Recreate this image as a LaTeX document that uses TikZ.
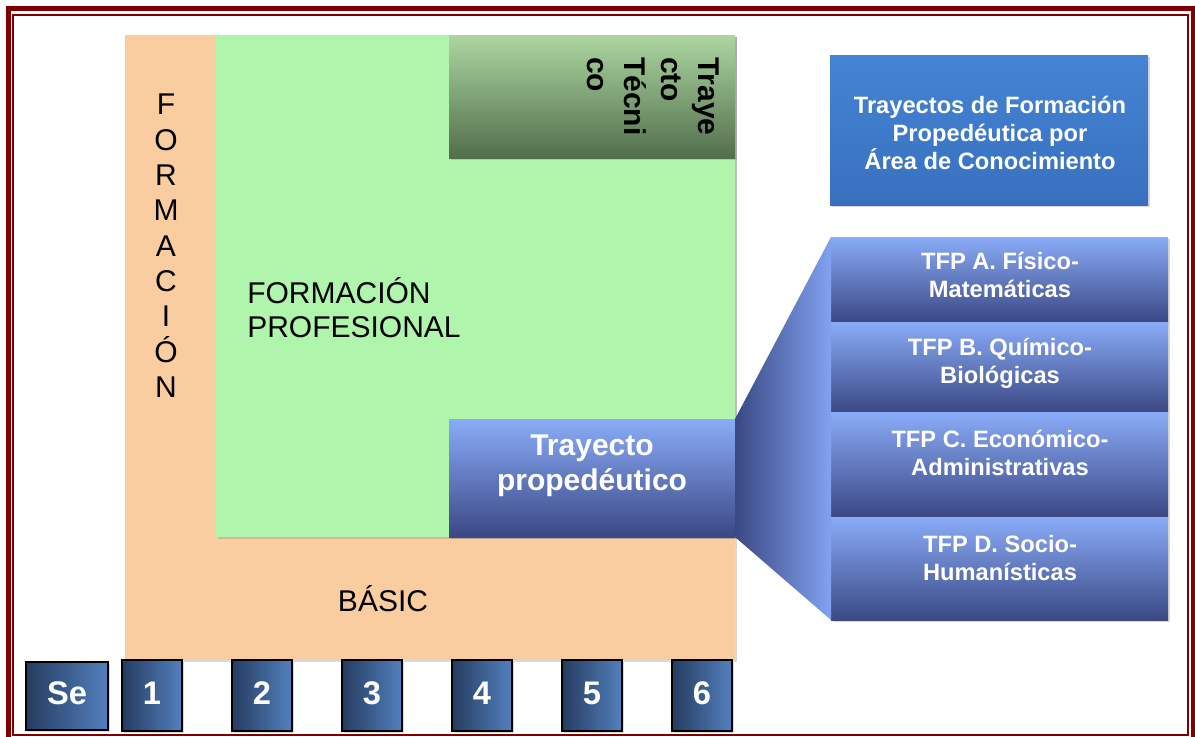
\documentclass[tikz,border=0pt]{standalone}
\usepackage{fontspec}
\setmainfont{Liberation Sans}
\usetikzlibrary{shadows}

\definecolor{guinda}{RGB}{128,0,0}
\definecolor{naranja}{RGB}{249,205,160}
\definecolor{verde}{RGB}{176,245,172}
\definecolor{verdeclaro}{RGB}{172,214,160}
\definecolor{verdeoscuro}{RGB}{82,110,76}
\definecolor{azulclaro}{RGB}{138,172,248}
\definecolor{azulmedio}{RGB}{98,122,212}
\definecolor{azuloscuro}{RGB}{58,72,132}
\definecolor{azulcaja}{RGB}{68,132,212}
\definecolor{azulcajab}{RGB}{56,112,190}
\definecolor{semizq}{RGB}{38,60,96}
\definecolor{semder}{RGB}{82,128,190}

\begin{document}
\begin{tikzpicture}[x=0.75pt,y=-0.75pt,
  caja/.style={anchor=north west,inner sep=0pt,outer sep=0pt,
    drop shadow={opacity=0.3,shadow xshift=1.5pt,shadow yshift=-1.5pt}},
  tfp/.style={caja,minimum width=252.75pt,top color=azulclaro,middle color=azulmedio,bottom color=azuloscuro},
  semestre/.style={caja,minimum width=45pt,minimum height=53.25pt,draw=black,line width=1.1pt,
    left color=semizq,right color=semder,text=white,text depth=4pt,font=\bfseries\fontsize{24.5}{29}\selectfont},
  textoblanco/.style={text=white,align=center,inner sep=0pt},
  tfptexto/.style={textoblanco,font=\bfseries\fontsize{17.75}{21}\selectfont}]
  \useasboundingbox (0,0) rectangle (1195,736);
  % marco doble
  \draw[guinda,line width=3.75pt] (8.5,8.5) rectangle (1193,741);
  \draw[guinda,line width=1.5pt] (13,14.5) rectangle (1188.3,735.2);
  % formacion basica y profesional
  \node[caja,fill=naranja,minimum width=457.5pt,minimum height=468.75pt] (basica) at (125,35) {};
  \node[caja,fill=verde,minimum width=389.25pt,minimum height=376.5pt] (profesional) at (216,35) {};
  \node[caja,top color=verdeclaro,bottom color=verdeoscuro,minimum width=214.5pt,minimum height=92.25pt] (tecnico) at (449,35) {};
  \node[caja,top color=azulclaro,middle color=azulmedio,bottom color=azuloscuro,minimum width=214.5pt,minimum height=88.5pt] (prop) at (449,419) {};
  \node[align=center,inner sep=0pt,font=\fontsize{22.5}{26.5}\selectfont] (formacion) at (166,246) {F\\O\\R\\M\\A\\C\\I\\Ó\\N};
  \node[anchor=west,align=left,inner sep=0pt,font=\fontsize{22.5}{25.5}\selectfont] (formprof) at (247,308) {FORMACIÓN\\PROFESIONAL};
  \node[inner sep=0pt,font=\fontsize{22.5}{27}\selectfont] (basic) at (383,599) {BÁSIC};
  \node[rotate=-90,anchor=north west,align=left,inner sep=0pt,font=\bfseries\fontsize{22.5}{27.75}\selectfont] (tectexto) at (719,57) {Traye\\cto\\Técni\\co};
  \node[textoblanco,font=\bfseries\fontsize{22.5}{26.25}\selectfont] (proptexto) at (592,466) {Trayecto\\propedéutico};
  % trayectos de formacion propedeutica
  \node[caja,top color=azulcaja,bottom color=azulcajab,minimum width=238.5pt,minimum height=112.5pt] (areas) at (830,55) {};
  \node[tfptexto] (areastexto) at (990,133) {Trayectos de Formación\\Propedéutica por\\Área de Conocimiento};
  \node[tfp,minimum height=63.75pt] (tfpA) at (831,237) {};
  \node[tfp,minimum height=67.5pt] (tfpB) at (831,322) {};
  \node[tfp,minimum height=78.75pt] (tfpC) at (831,412) {};
  \node[tfp,minimum height=77.25pt] (tfpD) at (831,517) {};
  \node[tfptexto] (tfpAtexto) at (1000,275) {TFP A. Físico-\\Matemáticas};
  \node[tfptexto] (tfpBtexto) at (1000,363) {TFP B. Químico-\\Biológicas};
  \node[tfptexto] (tfpCtexto) at (1000,453) {TFP C. Económico-\\Administrativas};
  \node[tfptexto] (tfpDtexto) at (1000,558) {TFP D. Socio-\\Humanísticas};
  % embudo
  \shade[left color=azuloscuro,right color=azulclaro!80!azulmedio] (prop.north east) -- (tfpA.north west) -- (tfpD.south west) -- (prop.south east) -- cycle;
  % semestres
  \node[semestre,minimum width=61.5pt,minimum height=51pt] (sem0) at (26,662) {Se};
  \foreach \n in {1,...,6}
    \node[semestre] (sem\n) at (12+110*\n,660) {\n};
\end{tikzpicture}
\end{document}
